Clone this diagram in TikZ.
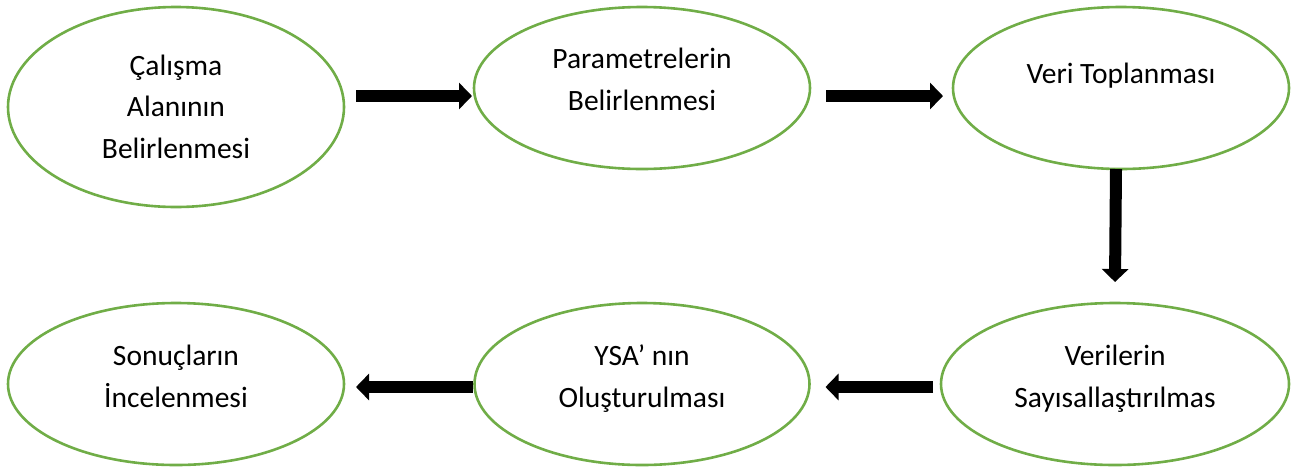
\documentclass[tikz,border=0pt]{standalone}
\usepackage{fontspec}
\setmainfont{Carlito}
\usetikzlibrary{arrows.meta,shapes.geometric}
\definecolor{stepgreen}{HTML}{70AD47}
\tikzset{
  stage/.style={draw=stepgreen, line width=2.6pt, ellipse, inner sep=0pt, outer sep=0pt},
  caption/.style={align=center, anchor=base, inner sep=0pt, font=\fontsize{29.5}{41.5}\selectfont},
  flow/.style={line width=12pt, -{Triangle[width=26pt,length=13pt]}}
}
\begin{document}
\begin{tikzpicture}[x=1pt,y=-1pt]
\useasboundingbox (0,0) rectangle (1292,467);
% process stages
\node[stage, minimum width=336pt, minimum height=200pt] (e1) at (176,107) {};
\node[stage, minimum width=336pt, minimum height=162pt] (e2) at (642,88) {};
\node[stage, minimum width=336pt, minimum height=162pt] (e3) at (1121,88) {};
\node[stage, minimum width=348pt, minimum height=162pt] (e6) at (1115,384) {};
\node[stage, minimum width=335pt, minimum height=162pt] (e5) at (642,384) {};
\node[stage, minimum width=336pt, minimum height=162pt] (e4) at (176,384) {};
% stage captions (anchored at the baseline of the last line)
\node[caption] (t1) at (176,158) {Çalışma\\Alanının\\Belirlenmesi};
\node[caption] (t2) at (642,110) {Parametrelerin\\Belirlenmesi};
\node[caption] (t3) at (1121,83) {Veri Toplanması};
\node[caption] (t6) at (1115,407) {Verilerin\\Sayısallaştırılmas};
\node[caption] (t5) at (642,407) {YSA’ nın\\Oluşturulması};
\node[caption] (t4) at (176,407) {Sonuçların\\İncelenmesi};
% flow arrows
\draw[flow] ([xshift=12pt,yshift=11pt]e1.east) -- ([xshift=-2pt,yshift=-8pt]e2.west);
\draw[flow] ([xshift=16pt,yshift=-8pt]e2.east) -- ([xshift=-10pt,yshift=-8pt]e3.west);
\draw[flow] ([xshift=-5pt]e3.south) -- ([yshift=21pt]e6.north);
\draw[flow] ([xshift=-8pt,yshift=-3pt]e6.west) -- ([xshift=16pt,yshift=-3pt]e5.east);
\draw[flow] ([xshift=-2pt,yshift=-3pt]e5.west) -- ([xshift=12pt,yshift=-3pt]e4.east);
\end{tikzpicture}
\end{document}
